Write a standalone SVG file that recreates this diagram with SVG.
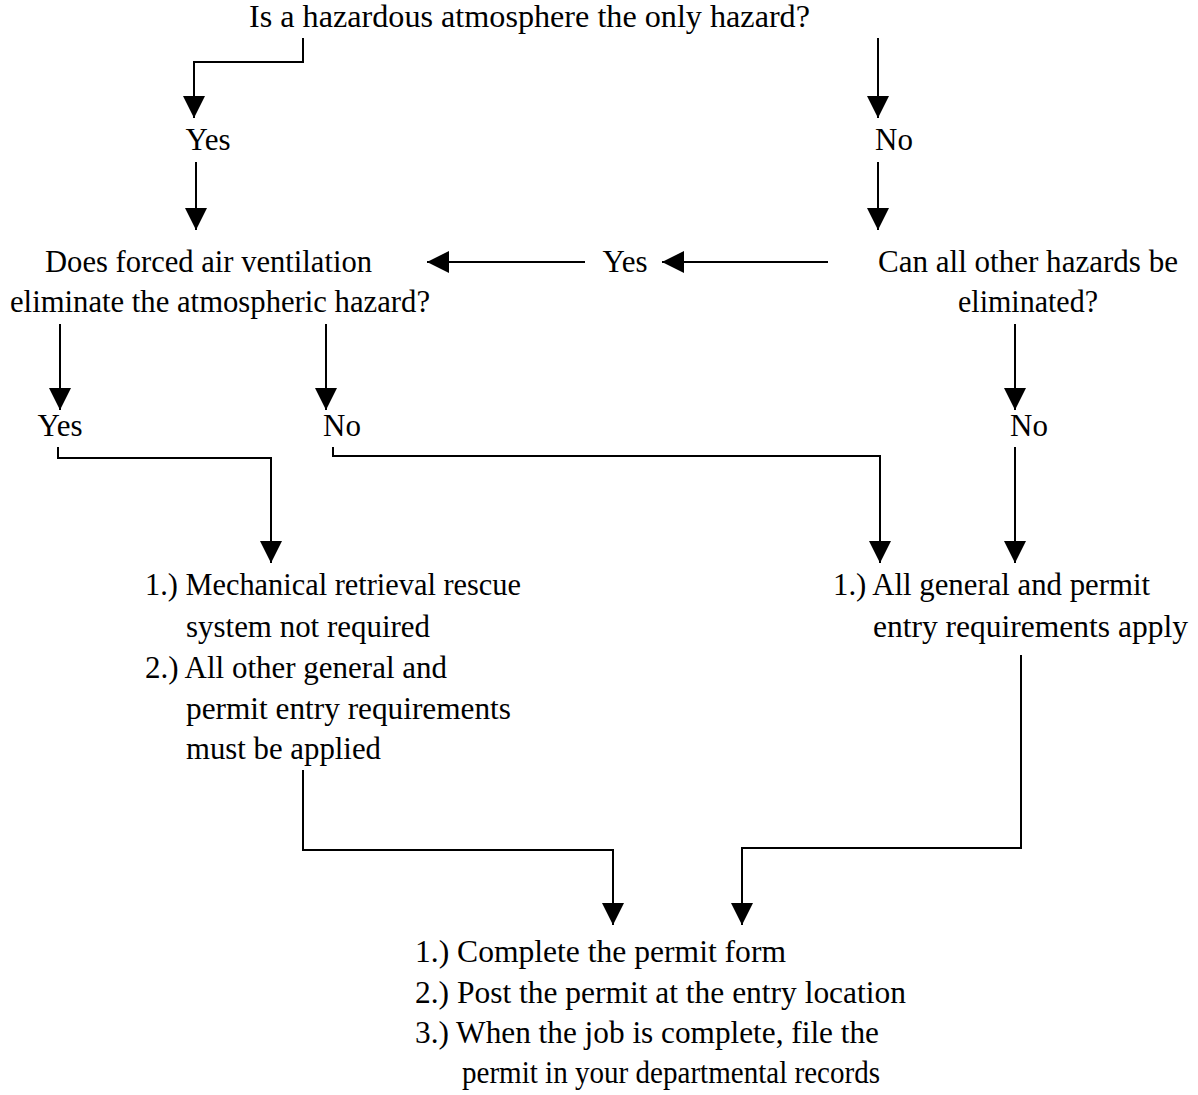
<svg xmlns="http://www.w3.org/2000/svg" width="1198" height="1095" viewBox="0 0 1198 1095">
<style>
text{font-family:"Liberation Serif","Times New Roman",serif;font-size:31px;fill:#000}
.c{text-anchor:middle}
.ln{fill:none;stroke:#000;stroke-width:2}
</style>
<defs>
<marker id="ah" markerUnits="userSpaceOnUse" markerWidth="24" markerHeight="22" refX="22" refY="11" orient="auto">
<path d="M0,0 L22,11 L0,22 z" fill="#000"/>
</marker>
</defs>
<rect width="1198" height="1095" fill="#fff"/>
<g id="connectors">
<path class="ln" marker-end="url(#ah)" d="M303,38 V62 H194 V118"/>
<path class="ln" marker-end="url(#ah)" d="M878,38 V118"/>
<path class="ln" marker-end="url(#ah)" d="M196,162 V230"/>
<path class="ln" marker-end="url(#ah)" d="M878,162 V230"/>
<path class="ln" marker-end="url(#ah)" d="M585,262 H427"/>
<path class="ln" marker-end="url(#ah)" d="M828,262 H662"/>
<path class="ln" marker-end="url(#ah)" d="M60,324 V410"/>
<path class="ln" marker-end="url(#ah)" d="M326,324 V410"/>
<path class="ln" marker-end="url(#ah)" d="M1015,324 V410"/>
<path class="ln" marker-end="url(#ah)" d="M58,447 V458 H271 V563"/>
<path class="ln" marker-end="url(#ah)" d="M333,447 V456 H880 V563"/>
<path class="ln" marker-end="url(#ah)" d="M1015,447 V563"/>
<path class="ln" marker-end="url(#ah)" d="M303,770 V850 H613 V925"/>
<path class="ln" marker-end="url(#ah)" d="M1021,655 V848 H742 V925"/>
</g>
<g id="q1"><text x="249" y="27" textLength="561" lengthAdjust="spacingAndGlyphs">Is a hazardous atmosphere the only hazard?</text></g>
<g id="yes1"><text x="208" y="150" class="c">Yes</text></g>
<g id="no1"><text x="894" y="150" class="c">No</text></g>
<g id="q2">
<text x="45" y="272" textLength="327" lengthAdjust="spacingAndGlyphs">Does forced air ventilation</text>
<text x="10" y="312" textLength="420" lengthAdjust="spacingAndGlyphs">eliminate the atmospheric hazard?</text>
</g>
<g id="yes2"><text x="625" y="272" class="c">Yes</text></g>
<g id="q3">
<text x="878" y="272" textLength="300" lengthAdjust="spacingAndGlyphs">Can all other hazards be</text>
<text x="958" y="312" textLength="140" lengthAdjust="spacingAndGlyphs">eliminated?</text>
</g>
<g id="yes3"><text x="60" y="436" class="c">Yes</text></g>
<g id="no3"><text x="342" y="436" class="c">No</text></g>
<g id="no4"><text x="1029" y="436" class="c">No</text></g>
<g id="r1">
<text x="145" y="595" textLength="376" lengthAdjust="spacingAndGlyphs">1.) Mechanical retrieval rescue</text>
<text x="186" y="637" textLength="244" lengthAdjust="spacingAndGlyphs">system not required</text>
<text x="145" y="678" textLength="302" lengthAdjust="spacingAndGlyphs">2.) All other general and</text>
<text x="186" y="719" textLength="325" lengthAdjust="spacingAndGlyphs">permit entry requirements</text>
<text x="186" y="759" textLength="195" lengthAdjust="spacingAndGlyphs">must be applied</text>
</g>
<g id="r2">
<text x="833" y="595" textLength="317" lengthAdjust="spacingAndGlyphs">1.) All general and permit</text>
<text x="873" y="637" textLength="315" lengthAdjust="spacingAndGlyphs">entry requirements apply</text>
</g>
<g id="final">
<text x="415" y="962" textLength="371" lengthAdjust="spacingAndGlyphs">1.) Complete the permit form</text>
<text x="415" y="1003" textLength="491" lengthAdjust="spacingAndGlyphs">2.) Post the permit at the entry location</text>
<text x="415" y="1043" textLength="464" lengthAdjust="spacingAndGlyphs">3.) When the job is complete, file the</text>
<text x="462" y="1083" textLength="418" lengthAdjust="spacingAndGlyphs">permit in your departmental records</text>
</g>
</svg>
